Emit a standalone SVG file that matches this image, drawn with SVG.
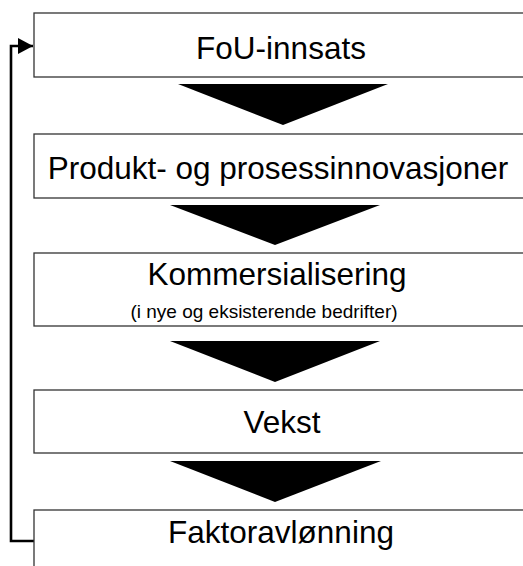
<svg xmlns="http://www.w3.org/2000/svg" width="523" height="566" viewBox="0 0 523 566">
<defs>
<style>
.box{fill:#fff;stroke:#333;stroke-width:1.3}
.t{font-family:"Liberation Sans",Arial,sans-serif;font-size:31.5px;fill:#000;text-anchor:middle}
.s{font-family:"Liberation Sans",Arial,sans-serif;font-size:19px;fill:#000;text-anchor:middle}
.tri{fill:#000}
.fb{fill:none;stroke:#000;stroke-width:2.6}
</style>
<marker id="ah" markerUnits="userSpaceOnUse" markerWidth="17" markerHeight="17" refX="15" refY="8" orient="auto">
<path d="M0,0 L15,8 L0,16 Z" fill="#000"/>
</marker>
</defs>
<rect width="523" height="566" fill="#fff"/>
<g id="connectors">
<polygon class="tri" points="178,84 388,84 283,125"/>
<polygon class="tri" points="170,205 380,205 275,245"/>
<polygon class="tri" points="170,341 380,341 275,382"/>
<polygon class="tri" points="170,461 381,461 275,502"/>
<path class="fb" d="M34,541 H11 V46 H33" marker-end="url(#ah)"/>
</g>
<g id="n1">
<rect class="box" x="34" y="13" width="500" height="64"/>
<text class="t" x="281" y="59">FoU-innsats</text>
</g>
<g id="n2">
<rect class="box" x="34" y="134" width="500" height="64"/>
<text class="t" x="278" y="179">Produkt- og prosessinnovasjoner</text>
</g>
<g id="n3">
<rect class="box" x="34" y="253" width="500" height="73"/>
<text class="t" x="277" y="285">Kommersialisering</text>
<text class="s" x="264" y="318">(i nye og eksisterende bedrifter)</text>
</g>
<g id="n4">
<rect class="box" x="34" y="390" width="500" height="63"/>
<text class="t" x="282" y="433">Vekst</text>
</g>
<g id="n5">
<rect class="box" x="34" y="510" width="500" height="80"/>
<text class="t" x="281" y="543">Faktoravlønning</text>
</g>
</svg>
